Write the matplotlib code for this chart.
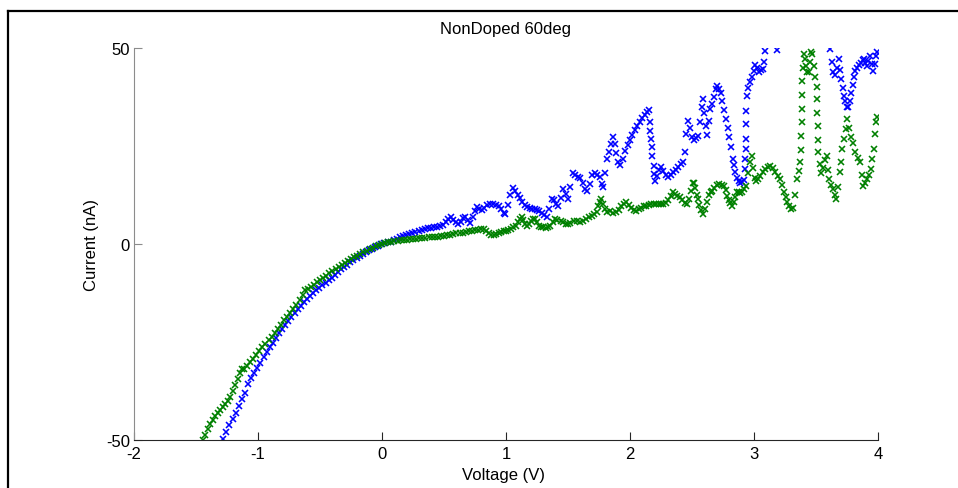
import numpy as np
import matplotlib
matplotlib.use("Agg")
import matplotlib.pyplot as plt
from matplotlib.lines import Line2D

# ---- sweep data: voltage (V) and current (nA) ----
blue_v = [
    -1.280, -1.255, -1.230, -1.205, -1.180, -1.155, -1.130, -1.105, -1.080, -1.055,
    -1.030, -1.005, -0.980, -0.955, -0.930, -0.905, -0.880, -0.855, -0.830, -0.805,
    -0.780, -0.755, -0.730, -0.705, -0.680, -0.655, -0.630, -0.605, -0.580, -0.555,
    -0.530, -0.505, -0.480, -0.455, -0.430, -0.405, -0.380, -0.355, -0.330, -0.305,
    -0.280, -0.255, -0.230, -0.205, -0.180, -0.155, -0.130, -0.105, -0.080, -0.055,
    -0.030, -0.005, 0.020, 0.045,
    0.070, 0.095, 0.120, 0.145, 0.170, 0.195, 0.220, 0.245, 0.270, 0.295,
    0.320, 0.345, 0.370, 0.395, 0.420, 0.445, 0.470, 0.495, 0.515, 0.535,
    0.555, 0.575, 0.595, 0.615, 0.635, 0.655, 0.670, 0.690, 0.710, 0.730,
    0.750, 0.765, 0.785, 0.805, 0.825, 0.845, 0.870, 0.895, 0.920, 0.940,
    0.960, 0.980, 0.995, 1.015, 1.035, 1.055, 1.075, 1.095, 1.110, 1.130,
    1.150, 1.170, 1.190, 1.210, 1.230, 1.250, 1.270, 1.290, 1.310, 1.330,
    1.350, 1.370, 1.385, 1.400, 1.420, 1.440, 1.460, 1.480, 1.500, 1.520,
    1.540, 1.560, 1.580, 1.600, 1.620, 1.640, 1.655, 1.675, 1.695, 1.715,
    1.735, 1.755, 1.775, 1.785, 1.800, 1.815, 1.830, 1.845, 1.860, 1.875,
    1.890, 1.905, 1.920, 1.940, 1.960, 1.980, 2.000, 2.020, 2.040, 2.060,
    2.080, 2.100, 2.120, 2.140, 2.150, 2.160, 2.165, 2.170, 2.175, 2.180,
    2.190, 2.195, 2.200, 2.215, 2.235, 2.250, 2.270, 2.290, 2.310, 2.330,
    2.350, 2.370, 2.390, 2.410, 2.425, 2.440, 2.455, 2.470, 2.485, 2.500,
    2.515, 2.530, 2.550, 2.565, 2.580, 2.590, 2.600, 2.610, 2.620, 2.635,
    2.645, 2.660, 2.675, 2.690, 2.700, 2.715, 2.730, 2.745, 2.760, 2.775,
    2.790, 2.800, 2.815, 2.830, 2.840, 2.850, 2.860, 2.875, 2.890, 2.905,
    2.920, 2.928, 2.930, 2.932, 2.934, 2.936, 2.938, 2.942, 2.955, 2.970,
    2.985, 3.000, 3.012, 3.025, 3.040, 3.055, 3.070, 3.080, 3.090, 3.185,
    3.615, 3.625, 3.640, 3.655, 3.670, 3.685, 3.695, 3.705, 3.715, 3.725,
    3.735, 3.748, 3.760, 3.772, 3.785, 3.795, 3.805, 3.815, 3.830, 3.845,
    3.860, 3.875, 3.885, 3.895, 3.910, 3.922, 3.935, 3.948, 3.960, 3.972,
    3.985, 3.995,
]
blue_i = [
    -49.8, -48.0, -46.3, -44.7, -43.0, -41.3, -39.6, -37.9, -35.6, -34.3,
    -33.0, -31.6, -30.3, -28.9, -27.6, -26.4, -25.2, -24.0, -22.8, -21.7,
    -20.6, -19.6, -18.6, -17.6, -16.6, -15.7, -14.8, -14.0, -13.2, -12.5,
    -11.8, -11.1, -10.5, -9.9, -9.3, -8.6, -7.9, -7.2, -6.5, -5.9,
    -5.3, -4.7, -4.1, -3.6, -3.1, -2.6, -2.1, -1.6, -1.2, -0.8,
    -0.4, -0.1, 0.2, 0.4,
    0.6, 0.9, 1.3, 1.7, 2.0, 2.3, 2.6, 2.9, 3.1, 3.3,
    3.5, 3.8, 4.0, 4.2, 4.3, 4.4, 4.5, 4.8, 5.6, 6.3,
    6.8, 6.2, 5.5, 5.1, 5.7, 6.6, 6.8, 6.0, 5.4, 6.8,
    8.5, 9.4, 9.0, 8.6, 9.3, 9.9, 10.2, 10.3, 10.0, 9.8,
    8.9, 7.9, 7.7, 10.0, 12.4, 14.3, 13.5, 12.4, 11.8, 10.8,
    9.9, 9.4, 9.3, 9.0, 8.9, 8.8, 8.4, 7.8, 7.3, 7.0,
    9.0, 11.5, 11.3, 10.3, 9.8, 11.8, 14.0, 12.8, 11.6, 14.5,
    18.0, 17.6, 17.0, 16.8, 15.5, 14.0, 13.6, 15.2, 17.6, 18.2,
    17.5, 17.1, 15.3, 14.5, 18.0, 21.8, 23.5, 25.4, 27.4, 25.6,
    23.2, 21.0, 20.2, 21.8, 23.6, 25.3, 26.5, 27.8, 29.2, 30.2,
    31.0, 32.2, 33.0, 33.8, 34.2, 31.0, 28.9, 26.8, 24.7, 22.5,
    20.0, 17.9, 16.1, 17.4, 19.0, 19.6, 18.6, 17.6, 17.0, 17.6,
    18.4, 19.0, 19.6, 20.5, 21.0, 23.5, 28.0, 31.5, 29.5, 27.2,
    26.6, 27.0, 27.6, 31.0, 35.0, 37.0, 33.5, 30.0, 27.8, 31.5,
    34.4, 35.8, 37.5, 39.5, 40.4, 39.6, 38.4, 36.5, 34.2, 32.0,
    29.5, 27.3, 24.8, 21.7, 20.2, 18.4, 16.8, 16.0, 15.5, 15.7,
    16.4, 19.1, 21.7, 24.2, 26.8, 30.6, 34.0, 37.8, 39.8, 41.2,
    42.5, 44.2, 45.6, 44.8, 44.0, 44.3, 44.6, 46.5, 49.3, 49.6,
    49.7, 46.5, 44.0, 43.2, 45.0, 47.2, 44.5, 42.1, 39.8, 37.8,
    36.5, 35.0, 34.9, 36.5, 38.6, 40.5, 42.5, 44.2, 45.0, 45.6,
    46.2, 46.9, 47.2, 46.3, 45.5, 46.8, 48.0, 46.0, 44.2, 46.0,
    48.0, 48.9,
]

green_v = [
    -1.445, -1.425, -1.405, -1.385, -1.365, -1.345, -1.325, -1.305, -1.285, -1.265,
    -1.245, -1.225, -1.205, -1.185, -1.165, -1.145, -1.130, -1.110, -1.090, -1.065,
    -1.040, -1.015, -0.990, -0.965, -0.940, -0.915, -0.890, -0.865, -0.840, -0.815,
    -0.790, -0.765, -0.740, -0.715, -0.690, -0.665, -0.640, -0.620, -0.600, -0.575,
    -0.550, -0.525, -0.500, -0.475, -0.450, -0.425, -0.400, -0.375, -0.350, -0.325,
    -0.300, -0.275, -0.250, -0.225, -0.200, -0.175, -0.150, -0.125, -0.100, -0.075,
    -0.050, -0.025, 0.000, 0.025, 0.050, 0.075, 0.100, 0.125, 0.150, 0.175,
    0.200, 0.225, 0.250, 0.275, 0.300, 0.325, 0.350, 0.375, 0.400, 0.425,
    0.450, 0.475, 0.500, 0.525, 0.550, 0.575, 0.600, 0.625, 0.650, 0.675,
    0.700, 0.725, 0.750, 0.775, 0.800, 0.820, 0.840, 0.860, 0.880, 0.900,
    0.920, 0.940, 0.960, 0.980, 1.000, 1.020, 1.040, 1.060, 1.080, 1.095,
    1.110, 1.125, 1.140, 1.155, 1.167, 1.185, 1.200, 1.215, 1.234, 1.250,
    1.265, 1.280, 1.300, 1.320, 1.340, 1.355, 1.375, 1.395, 1.415, 1.440,
    1.460, 1.480, 1.500, 1.520, 1.545, 1.570, 1.595, 1.620, 1.645, 1.670,
    1.690, 1.710, 1.730, 1.745, 1.760, 1.770, 1.785, 1.800, 1.815, 1.840,
    1.865, 1.890, 1.910, 1.930, 1.950, 1.970, 1.990, 2.010, 2.030, 2.050,
    2.070, 2.090, 2.110, 2.130, 2.150, 2.170, 2.190, 2.210, 2.230, 2.250,
    2.270, 2.290, 2.310, 2.330, 2.350, 2.365, 2.380, 2.400, 2.420, 2.440,
    2.460, 2.475, 2.490, 2.505, 2.515, 2.525, 2.540, 2.550, 2.560, 2.575,
    2.590, 2.605, 2.620, 2.635, 2.650, 2.665, 2.680, 2.700, 2.720, 2.740,
    2.760, 2.775, 2.785, 2.795, 2.810, 2.825, 2.840, 2.850, 2.860, 2.875,
    2.890, 2.905, 2.920, 2.935, 2.950, 2.965, 2.980, 2.992, 3.005, 3.020,
    3.035, 3.050, 3.070, 3.090, 3.110, 3.130, 3.150, 3.170, 3.190, 3.210,
    3.225, 3.240, 3.255, 3.270, 3.285, 3.300, 3.315, 3.330, 3.345, 3.360,
    3.372, 3.380, 3.382, 3.384, 3.386, 3.388, 3.390, 3.394, 3.400, 3.410,
    3.420, 3.430, 3.440, 3.450, 3.460, 3.470, 3.480, 3.490, 3.505, 3.510,
    3.512, 3.514, 3.516, 3.520, 3.530, 3.540, 3.555, 3.570, 3.585, 3.595,
    3.605, 3.620, 3.640, 3.655, 3.665, 3.678, 3.690, 3.700, 3.712, 3.725,
    3.740, 3.752, 3.765, 3.780, 3.795, 3.815, 3.835, 3.855, 3.868, 3.880,
    3.895, 3.910, 3.925, 3.940, 3.955, 3.965, 3.975, 3.985, 3.992,
]
green_i = [
    -49.9, -48.6, -47.2, -45.9, -44.8, -44.0, -43.2, -42.4, -41.6, -40.9,
    -40.1, -39.0, -37.6, -36.0, -34.4, -33.0, -32.0, -31.8, -31.0, -30.1,
    -29.3, -28.4, -27.4, -26.4, -25.5, -24.6, -23.6, -22.6, -21.6, -20.6,
    -19.5, -18.5, -17.5, -16.6, -15.6, -14.4, -13.0, -11.8, -11.4, -11.0,
    -10.4, -9.8, -9.2, -8.6, -8.1, -7.5, -6.9, -6.4, -5.9, -5.4,
    -4.9, -4.4, -3.9, -3.4, -3.0, -2.5, -2.1, -1.7, -1.3, -0.9,
    -0.6, -0.3, 0.0, 0.2, 0.4, 0.6, 0.7, 0.8, 0.9, 1.0,
    1.1, 1.2, 1.3, 1.4, 1.5, 1.5, 1.6, 1.7, 1.8, 1.8,
    1.9, 2.0, 2.1, 2.2, 2.4, 2.6, 2.7, 2.8, 2.9, 3.0,
    3.2, 3.4, 3.5, 3.6, 3.8, 3.8, 3.2, 2.7, 2.4, 2.3,
    2.5, 2.8, 3.0, 3.2, 3.4, 3.6, 3.9, 4.3, 4.7, 5.5,
    6.3, 6.8, 6.0, 5.2, 4.7, 5.2, 5.8, 6.3, 6.5, 5.5,
    4.6, 4.4, 4.3, 4.2, 4.3, 4.6, 5.6, 6.4, 6.1, 5.9,
    5.5, 5.2, 5.1, 5.4, 5.8, 5.9, 5.6, 5.9, 6.4, 6.8,
    7.2, 7.7, 8.2, 9.6, 10.8, 11.5, 10.3, 9.0, 8.1, 8.3,
    8.0, 8.1, 8.8, 9.6, 10.2, 10.6, 10.0, 9.2, 8.7, 8.5,
    8.9, 9.3, 9.6, 9.8, 9.9, 10.1, 10.2, 10.2, 10.3, 10.2,
    10.1, 10.4, 11.3, 12.3, 13.2, 12.8, 12.3, 11.9, 11.2, 10.5,
    10.2, 11.5, 13.5, 15.5, 15.6, 14.2, 12.5, 11.5, 10.0, 8.6,
    7.7, 9.0, 10.8, 12.4, 13.3, 13.5, 14.3, 15.1, 15.3, 15.1,
    14.9, 13.8, 12.3, 11.3, 10.4, 9.8, 10.6, 12.0, 13.2, 13.2,
    13.1, 13.3, 14.0, 14.8, 18.0, 21.0, 22.5, 19.5, 16.8, 16.0,
    16.7, 17.4, 18.3, 19.1, 19.7, 20.0, 19.4, 18.3, 17.4, 16.6,
    15.0, 13.2, 12.0, 10.8, 9.6, 9.0, 9.2, 12.5, 16.6, 18.6,
    20.8, 24.0, 27.5, 31.0, 34.5, 38.0, 41.5, 45.0, 48.5, 47.2,
    45.5, 44.0, 43.8, 46.5, 48.9, 48.5, 45.5, 42.5, 40.0, 37.0,
    33.5, 30.0, 26.5, 23.5, 20.5, 18.0, 19.5, 21.5, 22.5, 19.0,
    16.5, 15.0, 14.0, 12.5, 11.5, 14.5, 18.3, 21.0, 24.2, 26.8,
    29.3, 31.9, 29.5, 27.2, 25.8, 23.4, 22.0, 20.8, 17.5, 14.9,
    15.6, 16.6, 17.5, 19.1, 21.6, 24.2, 28.0, 31.0, 32.4,
]

x_ticks = [-2, -1, 0, 1, 2, 3, 4]
y_ticks = [-50, 0, 50]

plt.rcParams["font.family"] = ["Liberation Sans", "DejaVu Sans"]
plt.rcParams["axes.unicode_minus"] = False

fig = plt.figure(figsize=(9.58, 4.89), dpi=100)
ax = fig.add_axes([134 / 958, 1 - 441 / 489, 744 / 958, 392 / 489])

ax.plot(blue_v, blue_i, "x", color="#0000ff", ms=4.4, mew=1.15)
ax.plot(green_v, green_i, "x", color="#008000", ms=4.4, mew=1.15)

ax.set_xlim(-2, 4)
ax.set_ylim(-50, 50)
ax.set_xticks(x_ticks)
ax.set_yticks(y_ticks)

for side in ("top", "right"):
    ax.spines[side].set_visible(False)
ax.spines["left"].set_color("#8c8c8c")
ax.spines["bottom"].set_color("#262626")
ax.tick_params(axis="x", direction="in", length=5.5, width=0.8, colors="#262626",
               labelcolor="black", labelsize=12, pad=4)
ax.tick_params(axis="y", direction="in", length=5.5, width=0.8, colors="#8c8c8c",
               labelcolor="black", labelsize=12, pad=3)

ax.set_title("NonDoped 60deg", fontsize=12, pad=11)
ax.set_xlabel("Voltage (V)", fontsize=12)
ax.set_ylabel("Current (nA)", fontsize=12)
ax.xaxis.set_label_coords(0.496, -0.069)
ax.yaxis.set_label_coords(-0.047, 0.5)

# frame around the figure (top and left edges)
y_top = 1 - 12 / 489
x_left = 8 / 958
fig.add_artist(Line2D([x_left, 1.0], [y_top, y_top], color="black", lw=1.6,
                      transform=fig.transFigure))
fig.add_artist(Line2D([x_left, x_left], [y_top, 0.0], color="black", lw=1.6,
                      transform=fig.transFigure))

fig.savefig("out.png", dpi=100)
